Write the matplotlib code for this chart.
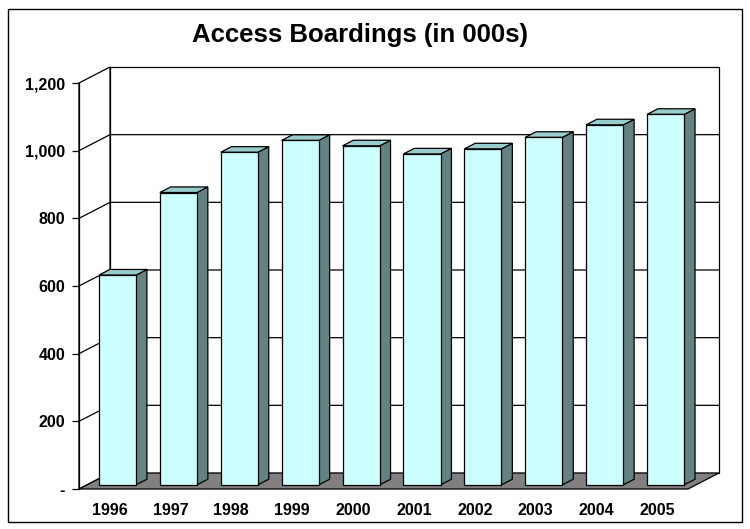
import matplotlib
matplotlib.use("Agg")
import matplotlib.pyplot as plt
from matplotlib.patches import Polygon, Rectangle

# Annual access boardings, thousands
years = ['1996', '1997', '1998', '1999', '2000', '2001', '2002', '2003', '2004', '2005']
boardings = [620, 864, 983, 1018, 1002, 978, 993, 1027, 1064, 1095]
y_ticks = [0, 200, 400, 600, 800, 1000, 1200]
y_tick_labels = ['-', '200', '400', '600', '800', '1,000', '1,200']

plt.rcParams['font.family'] = ['Liberation Sans', 'DejaVu Sans']

W, H = 750, 529
fig = plt.figure(figsize=(W / 100, H / 100), dpi=100)

# front plane of the 3-D box, in pixels
px_left, px_right, px_bottom, px_top = 79, 688, 489, 83
ax = fig.add_axes([px_left / W, 1 - px_bottom / H,
                   (px_right - px_left) / W, (px_bottom - px_top) / H])
ymax = 1200
ax.set_xlim(-0.5, len(years) - 0.5)
ax.set_ylim(0, ymax)
ax.patch.set_visible(False)

# depth offset of the box (pixels -> data units)
px_per_cat = (px_right - px_left) / len(years)
px_per_val = (px_bottom - px_top) / ymax
DX = 31 / px_per_cat
DY = 16 / px_per_val

x0, x1 = -0.5, len(years) - 0.5

def poly(pts, fc, ec='black', lw=0.9, z=1):
    ax.add_patch(Polygon(pts, closed=True, facecolor=fc, edgecolor=ec,
                         linewidth=lw, zorder=z, clip_on=False, joinstyle='miter'))

# walls and floor
poly([(x0 + DX, DY), (x1 + DX, DY), (x1 + DX, ymax + DY), (x0 + DX, ymax + DY)], 'white', z=1)
poly([(x0, 0), (x0 + DX, DY), (x0 + DX, ymax + DY), (x0, ymax)], 'white', z=1)
for v in y_ticks[1:-1]:
    ax.plot([x0, x0 + DX, x1 + DX], [v, v + DY, v + DY], color='black',
            lw=0.9, zorder=2, clip_on=False)
poly([(x0, 0), (x1, 0), (x1 + DX, DY), (x0 + DX, DY)], '#808080', z=3)

# 3-D columns
w = 0.61
f0, f1 = 0.26, 0.61
ox, oy = f0 * DX, f0 * DY
ddx, ddy = (f1 - f0) * DX, (f1 - f0) * DY
xs = list(range(len(years)))
ax.bar([x + ox for x in xs], boardings, width=w, bottom=oy,
       color='#CCFFFF', edgecolor='black', linewidth=0.9, zorder=6)
for x, v in zip(xs, boardings):
    left = x - w / 2 + ox
    right = left + w
    top = oy + v
    poly([(right, oy), (right + ddx, oy + ddy), (right + ddx, top + ddy), (right, top)],
         '#658282', z=5)
    poly([(left, top), (right, top), (right + ddx, top + ddy), (left + ddx, top + ddy)],
         '#99CCCC', z=5)

# axes, ticks, labels
for s in ['top', 'right', 'bottom']:
    ax.spines[s].set_visible(False)
ax.spines['left'].set_linewidth(0.9)
ax.spines['left'].set_zorder(7)
ax.set_yticks(y_ticks)
ax.set_yticklabels(y_tick_labels, fontsize=11.5, fontweight='bold')
ax.tick_params(axis='y', direction='out', length=5, width=0.9, pad=5)
ax.set_xticks(xs)
ax.set_xticklabels(years, fontsize=11.5, fontweight='bold')
ax.tick_params(axis='x', length=0, pad=10)

fig.text(360 / W, 1 - 42 / H, 'Access Boardings (in 000s)', ha='center',
         va='baseline', fontsize=18.5, fontweight='bold')

# chart border
fig.patches.append(Rectangle((8 / W, 1 - 522 / H), 734 / W, 513 / H,
                             transform=fig.transFigure, fill=False,
                             edgecolor='black', linewidth=1))

fig.savefig('out.png', dpi=100)
